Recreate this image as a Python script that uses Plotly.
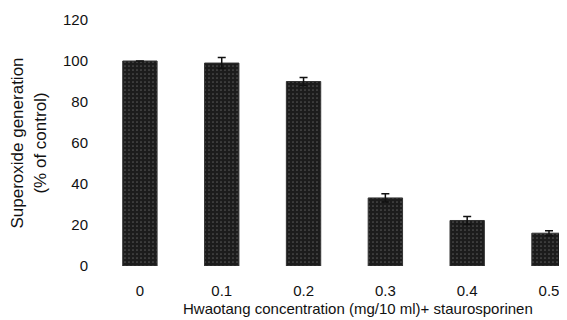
import plotly.graph_objects as go

categories = ["0", "0.1", "0.2", "0.3", "0.4", "0.5"]
values = [100, 99, 90, 33.2, 22.2, 16]
errors = [0, 2.7, 2, 2, 2, 1.2]
y_ticks = [0, 20, 40, 60, 80, 100, 120]

fig = go.Figure()
fig.add_trace(go.Bar(
    x=categories, y=values,
    width=0.42,
    marker=dict(color="#1c1c1c", line=dict(color="#333", width=1),
                pattern=dict(shape=".", fgcolor="#8a8a8a", bgcolor="#1c1c1c", size=4, solidity=0.15)),
    error_y=dict(type="data", array=errors, visible=True, color="#111", thickness=1.5, width=4),
))

font = dict(family="Liberation Sans, Arial, sans-serif", size=15, color="#111")
tfont = dict(family="Liberation Sans, Arial, sans-serif", size=17, color="#111")
fig.update_layout(
    width=559, height=312,
    margin=dict(l=91, r=0, t=12, b=54),
    plot_bgcolor="white", paper_bgcolor="white",
    font=font, showlegend=False,
    xaxis=dict(type="category", range=[-0.5, 5.22], showline=False, showgrid=False, automargin=False,
               ticks="", ticklabelstandoff=14, tickfont=font),
    yaxis=dict(range=[0, 120], tickvals=y_ticks, showline=False, showgrid=False, zeroline=False,
               automargin=False, ticks="", ticklabelstandoff=10, tickfont=font,
               title=dict(text="Superoxide generation<br>(% of control)", font=tfont, standoff=12)),
    annotations=[dict(text="Hwaotang concentration (mg/10 ml)+ staurosporinen",
                      xref="paper", yref="paper", x=0.553, y=0, yshift=-42,
                      xanchor="center", yanchor="middle", showarrow=False, font=font)],
)
fig.write_html("out.html")
